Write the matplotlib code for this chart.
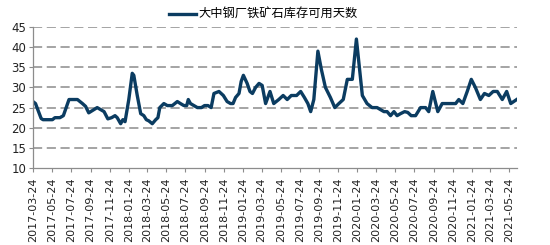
import matplotlib
matplotlib.use("Agg")
import matplotlib.pyplot as plt
import matplotlib.dates as mdates
import pandas as pd

# 大中钢厂铁矿石库存可用天数
dates = [
    "2017-03-24", "2017-04-01", "2017-04-19", "2017-04-25", "2017-05-25", "2017-06-02",
    "2017-06-18", "2017-06-29", "2017-07-17", "2017-08-13", "2017-08-29", "2017-09-08",
    "2017-09-18", "2017-10-05", "2017-10-15", "2017-10-26", "2017-11-06", "2017-11-18",
    "2017-11-30", "2017-12-11", "2017-12-18", "2017-12-29", "2018-01-05", "2018-01-12",
    "2018-01-24", "2018-02-04", "2018-02-09", "2018-02-20", "2018-03-03", "2018-03-13",
    "2018-03-21", "2018-03-29", "2018-04-09", "2018-04-20", "2018-04-27", "2018-05-03",
    "2018-05-16", "2018-05-27", "2018-06-12", "2018-06-28", "2018-07-08", "2018-07-19",
    "2018-07-28", "2018-08-02", "2018-08-09", "2018-08-20", "2018-08-31", "2018-09-13",
    "2018-09-23", "2018-10-04", "2018-10-14", "2018-10-23", "2018-11-08", "2018-11-22",
    "2018-12-04", "2018-12-15", "2018-12-23", "2018-12-31", "2019-01-11", "2019-01-18",
    "2019-01-25", "2019-02-06", "2019-02-15", "2019-02-23", "2019-03-05", "2019-03-16",
    "2019-03-26", "2019-04-06", "2019-04-20", "2019-05-02", "2019-05-18", "2019-06-01",
    "2019-06-14", "2019-06-27", "2019-07-14", "2019-07-27", "2019-08-08", "2019-08-19",
    "2019-08-28", "2019-09-07", "2019-09-20", "2019-10-01", "2019-10-14", "2019-10-30",
    "2019-11-13", "2019-11-26", "2019-12-10", "2019-12-23", "2020-01-08", "2020-01-21",
    "2020-02-09", "2020-02-24", "2020-03-11", "2020-03-27", "2020-04-07", "2020-04-18",
    "2020-04-28", "2020-05-09", "2020-05-20", "2020-05-30", "2020-06-10", "2020-06-23",
    "2020-07-03", "2020-07-14", "2020-07-28", "2020-08-13", "2020-08-29", "2020-09-08",
    "2020-09-21", "2020-10-07", "2020-10-21", "2020-11-06", "2020-11-22", "2020-12-03",
    "2020-12-13", "2020-12-26", "2021-01-09", "2021-01-22", "2021-02-04", "2021-02-20",
    "2021-03-05", "2021-03-19", "2021-04-02", "2021-04-15", "2021-05-01", "2021-05-15",
    "2021-05-28", "2021-06-16",
]
days = [
    26.5, 26, 22.3, 22, 22, 22.5,
    22.5, 23, 27, 27, 26, 25.3,
    23.7, 24.5, 25, 24.5, 24, 22.2,
    22.5, 23, 22.5, 21, 22, 21.5,
    27, 33.5, 33, 28, 23.5, 23,
    22, 21.7, 21, 22, 22.5, 25,
    26, 25.5, 25.5, 26.5, 26, 25.5,
    25.5, 27, 26, 25.5, 25, 25,
    25.5, 25.5, 25, 28.5, 29, 28,
    26.5, 26, 26, 27.5, 28.5, 31.5,
    33, 31, 29, 28.5, 30, 31,
    30.5, 26, 29, 26, 27, 28,
    27, 28, 28, 29, 27.5, 26,
    24, 27, 39, 34.5, 30, 27.5,
    25, 26, 27, 32, 32, 42,
    28, 26, 25, 25, 24.5, 24,
    24, 23, 24, 23, 23.5, 24,
    23.8, 23, 23, 25, 25, 24,
    29, 24, 26, 26, 26, 26,
    27, 26, 29, 32, 30, 27,
    28.5, 28, 29, 29, 27, 29,
    26, 27,
]
tick_dates = pd.date_range("2017-03-01", "2021-05-01", freq="2MS") + pd.Timedelta(days=23)
y_ticks = [10, 15, 20, 25, 30, 35, 40, 45]
label = "大中钢厂铁矿石库存可用天数"

x = pd.to_datetime(dates)

fig = plt.figure(figsize=(5.5, 2.45), dpi=100)
ax = fig.add_axes([0.06, 0.314, 0.88, 0.576])

ax.plot(x, days, color="#0b3c61", lw=2.4, label=label, solid_joinstyle="round")

ax.set_ylim(10, 45)
ax.set_yticks(y_ticks)
ax.set_xlim(pd.Timestamp("2017-03-24"), pd.Timestamp("2021-06-17"))
ax.set_xticks(tick_dates)
ax.xaxis.set_major_formatter(mdates.DateFormatter("%Y-%m-%d"))
plt.setp(ax.get_xticklabels(), rotation=90, fontsize=8, color="#222222")
plt.setp(ax.get_yticklabels(), fontsize=8.5, color="#222222")

for yv in y_ticks[1:]:
    ax.axhline(yv, color="#8c8c8c", lw=1.1, ls=(0, (6, 3)), zorder=0)

for side in ["top", "right"]:
    ax.spines[side].set_visible(False)
for side in ["left", "bottom"]:
    ax.spines[side].set_color("#8c8c8c")
    ax.spines[side].set_linewidth(0.9)
ax.tick_params(axis="both", color="#8c8c8c", length=3, width=0.8, pad=2)
ax.tick_params(axis="x", pad=4)

ax.legend(loc="lower center", bbox_to_anchor=(0.476, 0.99), frameon=False,
          prop={"family": ["Noto Sans CJK SC", "DejaVu Sans"], "size": 8.8},
          handlelength=2.2, handletextpad=0.2, borderpad=0.1)

fig.savefig("out.png", dpi=100)
